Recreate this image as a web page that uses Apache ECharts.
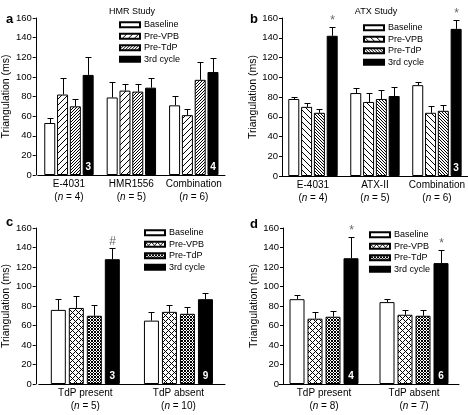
<!DOCTYPE html>
<html><head><meta charset="utf-8">
<script src="https://cdn.jsdelivr.net/npm/echarts@6/dist/echarts.min.js"></script>
<style>html,body{margin:0;padding:0;background:#fff}#c{width:468px;height:415px}</style>
</head><body><div id="c"></div>
<script>
// ---------- DATA ----------
const groupNames = ['Baseline', 'Pre-VPB', 'Pre-TdP', '3rd cycle'];
const yTicks = [0, 20, 40, 60, 80, 100, 120, 140, 160];

// Panel a: HMR Study
const catsA = ['E-4031', 'HMR1556', 'Combination'];
const nA = ['4', '5', '6'];
const baselineA = [53, 79, 71];
const preVpbA = [82, 86, 61];
const preTdpA = [70, 85, 97];
const thirdA = [102, 89, 105];
const errBaselineA = [5, 16, 10];
const errPreVpbA = [17, 7, 6];
const errPreTdpA = [7, 8, 18];
const errThirdA = [18, 10, 14];
const countA = ['3', '', '4'];
const markA = ['', '', ''];

// Panel b: ATX Study
const catsB = ['E-4031', 'ATX-II', 'Combination'];
const nB = ['4', '5', '6'];
const baselineB = [78, 84, 92];
const preVpbB = [70, 75, 64];
const preTdpB = [64, 78, 66];
const thirdB = [142, 81, 149];
const errBaselineB = [2, 5, 3];
const errPreVpbB = [4, 9, 7];
const errPreTdpB = [4, 9, 6];
const errThirdB = [9, 9, 9];
const countB = ['', '', '3'];
const markB = ['*', '', '*'];

// Panel c
const catsC = ['TdP present', 'TdP absent'];
const nC = ['5', '10'];
const baselineC = [76, 65];
const preVpbC = [78, 74];
const preTdpC = [70, 72];
const thirdC = [128, 87];
const errBaselineC = [11, 9];
const errPreVpbC = [12, 7];
const errPreTdpC = [11, 7];
const errThirdC = [12, 6];
const countC = ['3', '9'];
const markC = ['#', ''];

// Panel d
const catsD = ['TdP present', 'TdP absent'];
const nD = ['8', '7'];
const baselineD = [87, 84];
const preVpbD = [67, 71];
const preTdpD = [69, 70];
const thirdD = [129, 124];
const errBaselineD = [4, 3];
const errPreVpbD = [7, 5];
const errPreTdpD = [6, 6];
const errThirdD = [22, 13];
const countD = ['4', '6'];
const markD = ['*', '*'];

// ---------- PATTERNS ----------
function makePattern(p, fn) {
  const cv = document.createElement('canvas');
  cv.width = p; cv.height = p;
  const ctx = cv.getContext('2d');
  ctx.fillStyle = '#fff'; ctx.fillRect(0, 0, p, p);
  ctx.fillStyle = '#000';
  for (let x = 0; x < p; x++) for (let y = 0; y < p; y++) if (fn(x, y, p)) ctx.fillRect(x, y, 1, 1);
  return { image: cv, repeat: 'repeat' };
}
const fwd = (x, y, p) => (x + y) % p === 0;
const bwd = (x, y, p) => ((x - y) % p + p) % p === 0;
const cross = (x, y, p) => fwd(x, y, p) || bwd(x, y, p);

const FONT = 'Liberation Sans';

const panels = [
  { key: 'a', cats: catsA, n: nA, vals: [baselineA, preVpbA, preTdpA, thirdA], errs: [errBaselineA, errPreVpbA, errPreTdpA, errThirdA], count: countA, mark: markA,
    fills: ['#fff', makePattern(6, fwd), makePattern(3, fwd), '#000'],
    grid: { left: 35, top: 18, width: 190, height: 157 }, yOff: 2, bw: 11, gap: 1.8,
    legend: { left: 119, top: 19 } },
  { key: 'b', cats: catsB, n: nB, vals: [baselineB, preVpbB, preTdpB, thirdB], errs: [errBaselineB, errPreVpbB, errPreTdpB, errThirdB], count: countB, mark: markB,
    fills: ['#fff', makePattern(6, bwd), makePattern(3, bwd), '#000'],
    grid: { left: 282, top: 18, width: 186, height: 158 }, yOff: 0, bw: 11, gap: 1.8,
    legend: { left: 363, top: 22 } },
  { key: 'c', cats: catsC, n: nC, vals: [baselineC, preVpbC, preTdpC, thirdC], errs: [errBaselineC, errPreVpbC, errPreTdpC, errThirdC], count: countC, mark: markC,
    fills: ['#fff', makePattern(6, cross), makePattern(3, cross), '#000'],
    grid: { left: 35, top: 228, width: 190, height: 156 }, yOff: 3, bw: 15, gap: 3,
    legend: { left: 144, top: 227 } },
  { key: 'd', cats: catsD, n: nD, vals: [baselineD, preVpbD, preTdpD, thirdD], errs: [errBaselineD, errPreVpbD, errPreTdpD, errThirdD], count: countD, mark: markD,
    fills: ['#fff', makePattern(6, cross), makePattern(3, cross), '#000'],
    grid: { left: 279, top: 228, width: 180, height: 156 }, yOff: -4, bw: 15, gap: 3,
    legend: { left: 369, top: 229 } }
];

const grids = [], xAxes = [], yAxes = [], series = [], legends = [];
panels.forEach((P, k) => {
  grids.push(P.grid);
  xAxes.push({
    type: 'category', gridIndex: k, data: P.cats,
    axisLine: { lineStyle: { color: '#000', width: 1 } },
    axisTick: { show: false },
    axisLabel: {
      interval: 0, margin: 3, color: '#000', fontFamily: FONT, fontSize: 10, lineHeight: 13,
      formatter: (v, i) => '{t|' + v + '}\n{t|(}{i|n}{t| = ' + P.n[i] + ')}',
      rich: { t: { fontFamily: FONT, fontSize: 10, color: '#000', lineHeight: 13 },
              i: { fontFamily: FONT, fontSize: 10, color: '#000', fontStyle: 'italic', lineHeight: 13 } }
    }
  });
  yAxes.push({
    type: 'value', gridIndex: k, min: 0, max: 160, interval: 20, offset: P.yOff,
    name: 'Triangulation (ms)', nameLocation: 'middle', nameGap: 23,
    nameTextStyle: { fontFamily: FONT, fontSize: 10.5, color: '#000' },
    axisLine: { show: true, lineStyle: { color: '#000', width: 1 } },
    axisTick: { show: true, length: 3, lineStyle: { color: '#000' } },
    splitLine: { show: false },
    axisLabel: { color: '#000', fontFamily: FONT, fontSize: 9.5, margin: 4,
      formatter: v => (yTicks.indexOf(v) >= 0 ? String(v) : '') }
  });
  const step = P.bw + P.gap;
  const legendData = [];
  groupNames.forEach((g, s) => {
    const nm = P.key + '::' + g;
    legendData.push(nm);
    const bar = {
      type: 'bar', name: nm, xAxisIndex: k, yAxisIndex: k,
      data: P.vals[s], barWidth: P.bw, barGap: (P.gap / P.bw * 100) + '%',
      itemStyle: { color: P.fills[s], borderColor: '#000', borderWidth: 1 },
      emphasis: { disabled: true }, z: 2
    };
    if (s === 3) {
      bar.label = { show: true, position: 'insideBottom', distance: 3, color: '#fff', fontWeight: 'bold',
        fontFamily: FONT, fontSize: 10, formatter: p => P.count[p.dataIndex] };
    }
    series.push(bar);
    const errs = P.errs[s];
    const marks = s === 3 ? P.mark : null;
    series.push({
      type: 'custom', xAxisIndex: k, yAxisIndex: k, silent: true, z: 5,
      data: P.vals[s].map((m, i) => [i, m, errs[i]]),
      renderItem: (params, api) => {
        const i = api.value(0);
        const base = api.coord([i, api.value(1)]);
        const top = api.coord([i, api.value(1) + api.value(2)]);
        const x = Math.round(base[0] + (s - 1.5) * step) + 0.5;
        const ty = Math.round(top[1]) + 0.5;
        const ch = [
          { type: 'line', shape: { x1: x, y1: base[1], x2: x, y2: ty }, style: { stroke: '#000', lineWidth: 1 } },
          { type: 'line', shape: { x1: x - 3, y1: ty, x2: x + 3, y2: ty }, style: { stroke: '#000', lineWidth: 1 } }
        ];
        const mk = marks ? marks[params.dataIndex] : '';
        if (mk) ch.push({ type: 'text', x: x, y: ty - 1,
          style: { text: mk, align: 'center', verticalAlign: 'bottom', fill: '#666', fontSize: 12, fontFamily: FONT } });
        return { type: 'group', children: ch };
      }
    });
  });
  legends.push({
    orient: 'vertical', left: P.legend.left, top: P.legend.top, data: legendData,
    itemWidth: 20, itemHeight: 5, itemGap: 0, padding: 0, icon: 'rect', selectedMode: false,
    formatter: nm => nm.split('::')[1],
    textStyle: { fontFamily: FONT, fontSize: 9, color: '#000', lineHeight: 11.5, padding: [0, 0, 0, -1] }
  });
});

const titleStyle = { fontFamily: FONT, fontSize: 9, fontWeight: 'normal', color: '#000' };
const letterStyle = { fontFamily: FONT, fontSize: 13, fontWeight: 'bold', color: '#000' };
const chart = echarts.init(document.getElementById('c'), null, { renderer: 'canvas' });
chart.setOption({
  animation: false,
  backgroundColor: '#fff',
  title: [
    { text: 'HMR Study', left: 127, top: 2, textAlign: 'center', textStyle: titleStyle },
    { text: 'ATX Study', left: 371, top: 2, textAlign: 'center', textStyle: titleStyle },
    { text: 'a', left: 1, top: 8, textStyle: letterStyle },
    { text: 'b', left: 245, top: 8, textStyle: letterStyle },
    { text: 'c', left: 1, top: 211, textStyle: letterStyle },
    { text: 'd', left: 245, top: 213, textStyle: letterStyle }
  ],
  legend: legends,
  grid: grids,
  xAxis: xAxes,
  yAxis: yAxes,
  series: series
});
</script>
</body></html>
